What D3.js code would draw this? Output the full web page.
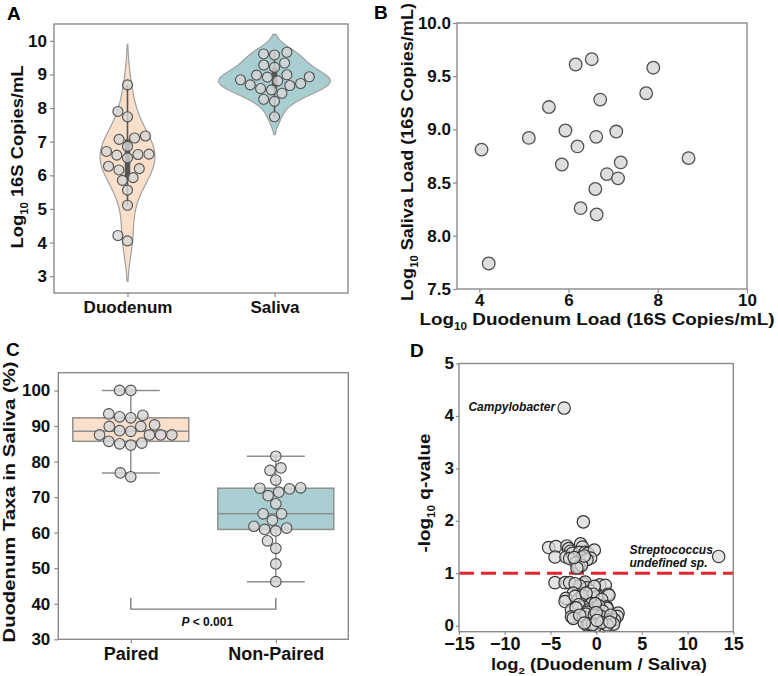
<!DOCTYPE html>
<html><head><meta charset="utf-8">
<script src="https://cdn.jsdelivr.net/npm/d3@7"></script>
<style>
body{margin:0;background:#fff}
text{font-family:"Liberation Sans",Arial,Helvetica,sans-serif;}
</style>
</head><body>
<svg id="chart" width="778" height="676"></svg>
<script>
// ---------------- DATA ----------------
// Panel A/B: paired loads (log10 16S copies/mL)
const groupsA = ["Duodenum", "Saliva"];
const duodenumLoad = [4.05, 4.21, 5.11, 5.56, 5.93, 5.85, 6.16, 6.20, 6.27, 6.52, 6.60, 6.62, 6.63, 6.71, 6.86, 7.07, 7.11, 7.17, 7.74, 7.90, 8.69];
const salivaLoad   = [8.81, 7.74, 8.92, 9.21, 8.99, 8.67, 9.61, 8.84, 8.26, 9.66, 8.44, 8.93, 8.20, 9.28, 8.58, 8.98, 8.54, 8.69, 9.34, 9.58, 8.73];
const yTicksA = [3, 4, 5, 6, 7, 8, 9, 10];
const xTicksB = [4, 6, 8, 10];
const yTicksB = [7.5, 8.0, 8.5, 9.0, 9.5, 10.0];

// Panel C: % duodenum taxa found in saliva
const groupsC = ["Paired", "Non-Paired"];
const pairedTaxa = [100, 100, 92.3, 92.6, 93.0, 93.4, 89.9, 89.9, 90.3, 88.7, 88.5, 87.5, 87.5, 87.5, 87.5, 85.0, 84.6, 85.2, 85.7, 76.8, 75.7];
const nonPairedTaxa = [81.5, 77.5, 78.2, 74.8, 72.6, 72.3, 72.5, 71.4, 70.4, 68.1, 65.3, 65.3, 63.5, 61.8, 60.9, 60.5, 61.3, 57.7, 55.6, 51.2, 46.2];
const yTicksC = [30, 40, 50, 60, 70, 80, 90, 100];
const pLabel = "< 0.001";

// Panel D: volcano (log2 fold change, -log10 q)
const volcanoX = [
  -3.5, 13.4, -1.4,
  -5.2, -4.4, -4.5, -3.2, -3.0, -2.8, -3.3, -2.6, -2.9, -1.7, -1.5, -1.8, -1.2, -0.9, -0.2, -1.5, -0.6, -1.0, -2.2, -1.9, -1.6, -2.1, -1.3, -2.4,
  -4.5, -3.4, -2.9, -1.4, -1.2, -1.0, -0.6, 0.4, 1.0, -0.2, -1.8, -2.3,
  -2.5, -3.3, -3.4, -1.8, -0.7, 0.1, 1.3, 1.4, -2.0, -1.5, -0.3, 0.6, -2.3, -1.1, -0.5,
  -2.7, -1.4, -0.3, 1.15, 1.2, -1.9, -0.9, 0.3, 0.7, -2.2, -0.1, -1.0,
  2.4, 2.3, -2.7, -2.5, -1.4, -0.5, 0.2, 1.15, 2.0, -1.1, -0.2, 0.5, 1.6, -1.8, 0.0,
  -1.0, -0.8, 0.4, 1.9, 0.8, 0.0, -0.4, 1.2, 0.6, -1.3, 0.1, 1.5
];
const volcanoY = [
  4.15, 1.32, 1.98,
  1.49, 1.51, 1.31, 1.52, 1.47, 1.42, 1.31, 1.38, 1.28, 1.56, 1.50, 1.40, 1.40, 1.38, 1.44, 1.30, 1.29, 1.26, 1.20, 1.12, 1.15, 1.10, 1.33, 1.30,
  0.82, 0.82, 0.82, 0.80, 0.83, 0.72, 0.66, 0.78, 0.77, 0.75, 0.76, 0.80,
  0.62, 0.52, 0.46, 0.52, 0.49, 0.55, 0.60, 0.58, 0.49, 0.57, 0.60, 0.50, 0.56, 0.62, 0.42,
  0.30, 0.36, 0.33, 0.36, 0.33, 0.40, 0.30, 0.38, 0.28, 0.34, 0.42, 0.26,
  0.24, 0.18, 0.17, 0.14, 0.17, 0.08, 0.05, 0.11, 0.11, 0.22, 0.20, 0.18, 0.20, 0.20, 0.25,
  0.01, 0.03, 0.04, 0.03, 0.00, 0.00, 0.02, 0.01, 0.06, 0.05, 0.10, 0.07
];
const volcanoLabels = [["Campylobacter"], ["Streptococcus", "undefined sp."]];
const xTicksD = [-15, -10, -5, 0, 5, 10, 15];
const yTicksD = [0, 1, 2, 3, 4, 5];
const qThreshold = 1;

// ---------------- STYLE ----------------
const FRAME = "#8a8a8a";
const PEACH = "#fadfca", TEAL = "#a9ced1";
const PT_FILL = "#d6d6d6", PT_STROKE = "#505050";

const svg = d3.select("#chart");

function frame(x0, x1, y0, y1) {
  svg.append("rect").attr("x", x0).attr("y", y0).attr("width", x1 - x0).attr("height", y1 - y0)
    .attr("fill", "none").attr("stroke", FRAME).attr("stroke-width", 1.4);
}
function styleAxis(g, fs) {
  g.select(".domain").remove();
  g.selectAll(".tick line").attr("stroke", FRAME).attr("stroke-width", 1.2);
  g.selectAll(".tick text").attr("fill", "#111").attr("font-size", fs).attr("font-weight", "bold")
    .attr("font-family", '"Liberation Sans",Arial,sans-serif');
}
function label(x, y, parts, opts) {
  const t = svg.append("text").attr("x", x).attr("y", y)
    .attr("font-size", opts.size).attr("font-weight", "bold").attr("fill", "#111")
    .attr("text-anchor", opts.anchor || "middle");
  if (opts.rotate) t.attr("transform", `rotate(-90,${x},${y})`);
  if (opts.len) t.attr("textLength", opts.len).attr("lengthAdjust", "spacingAndGlyphs");
  parts.forEach(p => {
    const s = t.append("tspan").text(p.t);
    if (p.sub) s.attr("font-size", opts.size * 0.62).attr("dy", opts.size * 0.28);
    else if (p.after) s.attr("dy", -opts.size * 0.28);
  });
  return t;
}
function swarm(vals, scale, cx, d) {
  const pts = vals.map(v => ({ v, y: scale(v) })).sort((a, b) => b.y - a.y);
  const placed = [];
  for (const p of pts) {
    const near = placed.filter(q => Math.abs(q.y - p.y) < d);
    const cands = [0];
    for (const q of near) {
      const dx = Math.sqrt(d * d - (q.y - p.y) ** 2);
      cands.push(q.dx + dx, q.dx - dx);
    }
    cands.sort((a, b) => Math.abs(a) - Math.abs(b) || a - b);
    for (const c of cands) {
      if (near.every(q => (q.dx - c) ** 2 + (q.y - p.y) ** 2 >= d * d - 0.01)) { p.dx = c; break; }
    }
    placed.push(p);
  }
  return pts.map(p => ({ v: p.v, x: cx + p.dx, y: p.y }));
}
function kde(vals, grid) {
  const n = vals.length;
  const bw = d3.deviation(vals) * Math.pow(n, -0.2);
  return { bw, dens: grid.map(g => ({ v: g, d: d3.sum(vals, x => Math.exp(-0.5 * ((g - x) / bw) ** 2)) / (n * bw * Math.sqrt(2 * Math.PI)) })) };
}

// ---------------- PANEL A ----------------
{
  const x0 = 54, x1 = 348, y0 = 24, y1 = 293;
  const xA = d3.scalePoint().domain(groupsA).range([x0, x1]).padding(0.5);
  const yA = d3.scaleLinear().domain([2.5, 10.5]).range([y1, y0]);
  const sets = [duodenumLoad, salivaLoad];
  const cols = [PEACH, TEAL];
  const kdes = sets.map(s => {
    const bw = d3.deviation(s) * Math.pow(s.length, -0.2);
    const lo = d3.min(s) - 2 * bw, hi = d3.max(s) + 2 * bw;
    const grid = d3.range(0, 101).map(i => lo + (hi - lo) * i / 100);
    return kde(s, grid).dens;
  });
  const maxD = d3.max(kdes, k => d3.max(k, e => e.d));
  const wA = d3.scaleLinear().domain([0, maxD]).range([0, 0.38 * xA.step()]);
  sets.forEach((s, i) => {
    const cx = xA(groupsA[i]);
    const area = d3.area().curve(d3.curveBasis)
      .y(e => yA(e.v)).x0(e => cx - wA(e.d)).x1(e => cx + wA(e.d));
    svg.append("path").attr("d", area(kdes[i])).attr("fill", cols[i])
      .attr("stroke", "#a0a0a0").attr("stroke-width", 1.2);
    const sorted = s.slice().sort(d3.ascending);
    const q1 = d3.quantile(sorted, 0.25), q3 = d3.quantile(sorted, 0.75), iqr = q3 - q1;
    const wlo = d3.min(sorted.filter(v => v >= q1 - 1.5 * iqr));
    const whi = d3.max(sorted.filter(v => v <= q3 + 1.5 * iqr));
    svg.append("line").attr("x1", cx).attr("x2", cx).attr("y1", yA(wlo)).attr("y2", yA(whi))
      .attr("stroke", "#555").attr("stroke-width", 1.6);
    svg.append("line").attr("x1", cx).attr("x2", cx).attr("y1", yA(q1)).attr("y2", yA(q3))
      .attr("stroke", "#555").attr("stroke-width", 5.5);
    const pts = swarm(s, yA, cx, 11);
    svg.selectAll(null).data(pts).enter().append("circle")
      .attr("cx", p => p.x).attr("cy", p => p.y).attr("r", 5)
      .attr("fill", PT_FILL).attr("fill-opacity", 0.78).attr("stroke", PT_STROKE).attr("stroke-width", 1.1);
  });
  frame(x0, x1, y0, y1);
  const gy = svg.append("g").attr("transform", `translate(${x0},0)`)
    .call(d3.axisLeft(yA).tickValues(yTicksA).tickSize(4).tickPadding(3).tickFormat(d3.format("d")));
  styleAxis(gy, 17);
  const gx = svg.append("g").attr("transform", `translate(0,${y1})`)
    .call(d3.axisBottom(xA).tickSize(4).tickPadding(4));
  styleAxis(gx, 17);
  label(23, 157, [{ t: "Log" }, { t: "10", sub: true }, { t: " 16S Copies/mL", after: true }], { size: 17, rotate: true, len: 183 });
  svg.append("text").attr("x", 7).attr("y", 20).text("A").attr("font-size", 19).attr("font-weight", "bold");
}

// ---------------- PANEL B ----------------
{
  const x0 = 457, x1 = 747, y0 = 23, y1 = 289;
  const xB = d3.scaleLinear().domain([3.5, 10]).range([x0, x1]);
  const yB = d3.scaleLinear().domain([7.5, 10]).range([y1, y0]);
  frame(x0, x1, y0, y1);
  svg.selectAll(null).data(duodenumLoad).enter().append("circle")
    .attr("cx", d => xB(d)).attr("cy", (d, i) => yB(salivaLoad[i])).attr("r", 6.3)
    .attr("fill", "#dedede").attr("stroke", PT_STROKE).attr("stroke-width", 1.3);
  const gy = svg.append("g").attr("transform", `translate(${x0},0)`)
    .call(d3.axisLeft(yB).tickValues(yTicksB).tickSize(4).tickPadding(2).tickFormat(d3.format(".1f")));
  styleAxis(gy, 17);
  const gx = svg.append("g").attr("transform", `translate(0,${y1})`)
    .call(d3.axisBottom(xB).tickValues(xTicksB).tickSize(4).tickPadding(1).tickFormat(d3.format("d")));
  styleAxis(gx, 17);
  label(413, 152, [{ t: "Log" }, { t: "10", sub: true }, { t: " Saliva Load (16S Copies/mL)", after: true }], { size: 17, rotate: true, len: 298 });
  label(597, 325, [{ t: "Log" }, { t: "10", sub: true }, { t: " Duodenum Load (16S Copies/mL)", after: true }], { size: 17, len: 355 });
  svg.append("text").attr("x", 374).attr("y", 19).text("B").attr("font-size", 19).attr("font-weight", "bold");
}

// ---------------- PANEL C ----------------
{
  const x0 = 58.3, x1 = 348.3, y0 = 372.7, y1 = 639.3;
  const xC = d3.scalePoint().domain(groupsC).range([x0, x1]).padding(0.5);
  const yC = d3.scaleLinear().domain([30, 105]).range([y1, y0]);
  const sets = [pairedTaxa, nonPairedTaxa];
  const cols = [PEACH, TEAL];
  const bw = 0.8 * xC.step();
  sets.forEach((s, i) => {
    const cx = xC(groupsC[i]);
    const sorted = s.slice().sort(d3.ascending);
    const q1 = d3.quantile(sorted, 0.25), med = d3.quantile(sorted, 0.5), q3 = d3.quantile(sorted, 0.75), iqr = q3 - q1;
    const wlo = d3.min(sorted.filter(v => v >= q1 - 1.5 * iqr));
    const whi = d3.max(sorted.filter(v => v <= q3 + 1.5 * iqr));
    const g = svg.append("g").attr("stroke", "#8f8f8f").attr("stroke-width", 1.5);
    g.append("line").attr("x1", cx).attr("x2", cx).attr("y1", yC(q3)).attr("y2", yC(whi));
    g.append("line").attr("x1", cx).attr("x2", cx).attr("y1", yC(q1)).attr("y2", yC(wlo));
    g.append("line").attr("x1", cx - bw / 4).attr("x2", cx + bw / 4).attr("y1", yC(whi)).attr("y2", yC(whi));
    g.append("line").attr("x1", cx - bw / 4).attr("x2", cx + bw / 4).attr("y1", yC(wlo)).attr("y2", yC(wlo));
    g.append("rect").attr("x", cx - bw / 2).attr("width", bw).attr("y", yC(q3)).attr("height", yC(q1) - yC(q3)).attr("fill", cols[i]);
    g.append("line").attr("x1", cx - bw / 2).attr("x2", cx + bw / 2).attr("y1", yC(med)).attr("y2", yC(med));
    const pts = swarm(s, yC, cx, 11.2);
    svg.selectAll(null).data(pts).enter().append("circle")
      .attr("cx", p => p.x).attr("cy", p => p.y).attr("r", 5.3)
      .attr("fill", PT_FILL).attr("fill-opacity", 0.85).attr("stroke", PT_STROKE).attr("stroke-width", 1.1);
  });
  // significance bracket
  const bx0 = xC(groupsC[0]), bx1 = xC(groupsC[1]), by = yC(38.5), byTop = yC(41.6);
  svg.append("path").attr("d", `M${bx0},${byTop}V${by}H${bx1}V${byTop}`)
    .attr("fill", "none").attr("stroke", "#7a7a7a").attr("stroke-width", 1.4);
  const pt = svg.append("text").attr("x", (bx0 + bx1) / 2 + 4).attr("y", yC(33.7)).attr("text-anchor", "middle")
    .attr("font-size", 12).attr("fill", "#111");
  pt.append("tspan").text("P").attr("font-style", "italic").attr("font-weight", "bold");
  pt.append("tspan").text(" " + pLabel).attr("font-weight", "bold");
  frame(x0, x1, y0, y1);
  const gy = svg.append("g").attr("transform", `translate(${x0},0)`)
    .call(d3.axisLeft(yC).tickValues(yTicksC).tickSize(4).tickPadding(4).tickFormat(d3.format("d")));
  styleAxis(gy, 17);
  const gx = svg.append("g").attr("transform", `translate(0,${y1})`)
    .call(d3.axisBottom(xC).tickSize(4).tickPadding(4));
  styleAxis(gx, 18);
  label(15, 502, [{ t: "Duodenum Taxa in Saliva (%)" }], { size: 17, rotate: true, len: 281 });
  svg.append("text").attr("x", 6).attr("y", 356).text("C").attr("font-size", 19).attr("font-weight", "bold");
}

// ---------------- PANEL D ----------------
{
  const x0 = 459, x1 = 733.3, y0 = 363.5, y1 = 631.7;
  const xD = d3.scaleLinear().domain([-15, 15]).range([x0, x1]);
  const yD = d3.scaleLinear().domain([-0.115, 5]).range([y1, y0]);
  svg.append("line").attr("x1", x0).attr("x2", x1).attr("y1", yD(qThreshold)).attr("y2", yD(qThreshold))
    .attr("stroke", "#e3252f").attr("stroke-width", 2.8).attr("stroke-dasharray", "15 7");
  svg.selectAll(null).data(volcanoX).enter().append("circle")
    .attr("cx", d => xD(d)).attr("cy", (d, i) => yD(volcanoY[i])).attr("r", 6.2)
    .attr("fill", "#d8d8d8").attr("fill-opacity", 0.72).attr("stroke", "#333").attr("stroke-width", 1.2);
  frame(x0, x1, y0, y1);
  const gy = svg.append("g").attr("transform", `translate(${x0},0)`)
    .call(d3.axisLeft(yD).tickValues(yTicksD).tickSize(3).tickPadding(2).tickFormat(d3.format("d")));
  styleAxis(gy, 17);
  gy.selectAll(".tick text").attr("dy", "0.28em");
  const gx = svg.append("g").attr("transform", `translate(0,${y1})`)
    .call(d3.axisBottom(xD).tickValues(xTicksD).tickSize(3).tickPadding(3).tickFormat(d3.format("d")));
  styleAxis(gx, 18);
  // annotations
  const c = svg.append("text").attr("x", xD(volcanoX[0]) - 9).attr("y", yD(volcanoY[0]) + 3)
    .attr("text-anchor", "end").attr("font-size", 12).attr("font-weight", "bold").attr("font-style", "italic").attr("fill", "#111");
  c.text(volcanoLabels[0][0]);
  volcanoLabels[1].forEach((s, k) => {
    svg.append("text").attr("x", 629.5).attr("y", yD(volcanoY[1]) - 2 + k * 12.5)
      .attr("font-size", 12).attr("font-weight", "bold").attr("font-style", "italic").attr("fill", "#111").text(s);
  });
  label(430, 493, [{ t: "-log" }, { t: "10", sub: true }, { t: " q-value", after: true }], { size: 17, rotate: true, len: 119 });
  label(599, 670, [{ t: "log" }, { t: "2", sub: true }, { t: " (Duodenum / Saliva)", after: true }], { size: 16, len: 216 });
  svg.append("text").attr("x", 410).attr("y", 357).text("D").attr("font-size", 19).attr("font-weight", "bold");
}
</script>
</body></html>
